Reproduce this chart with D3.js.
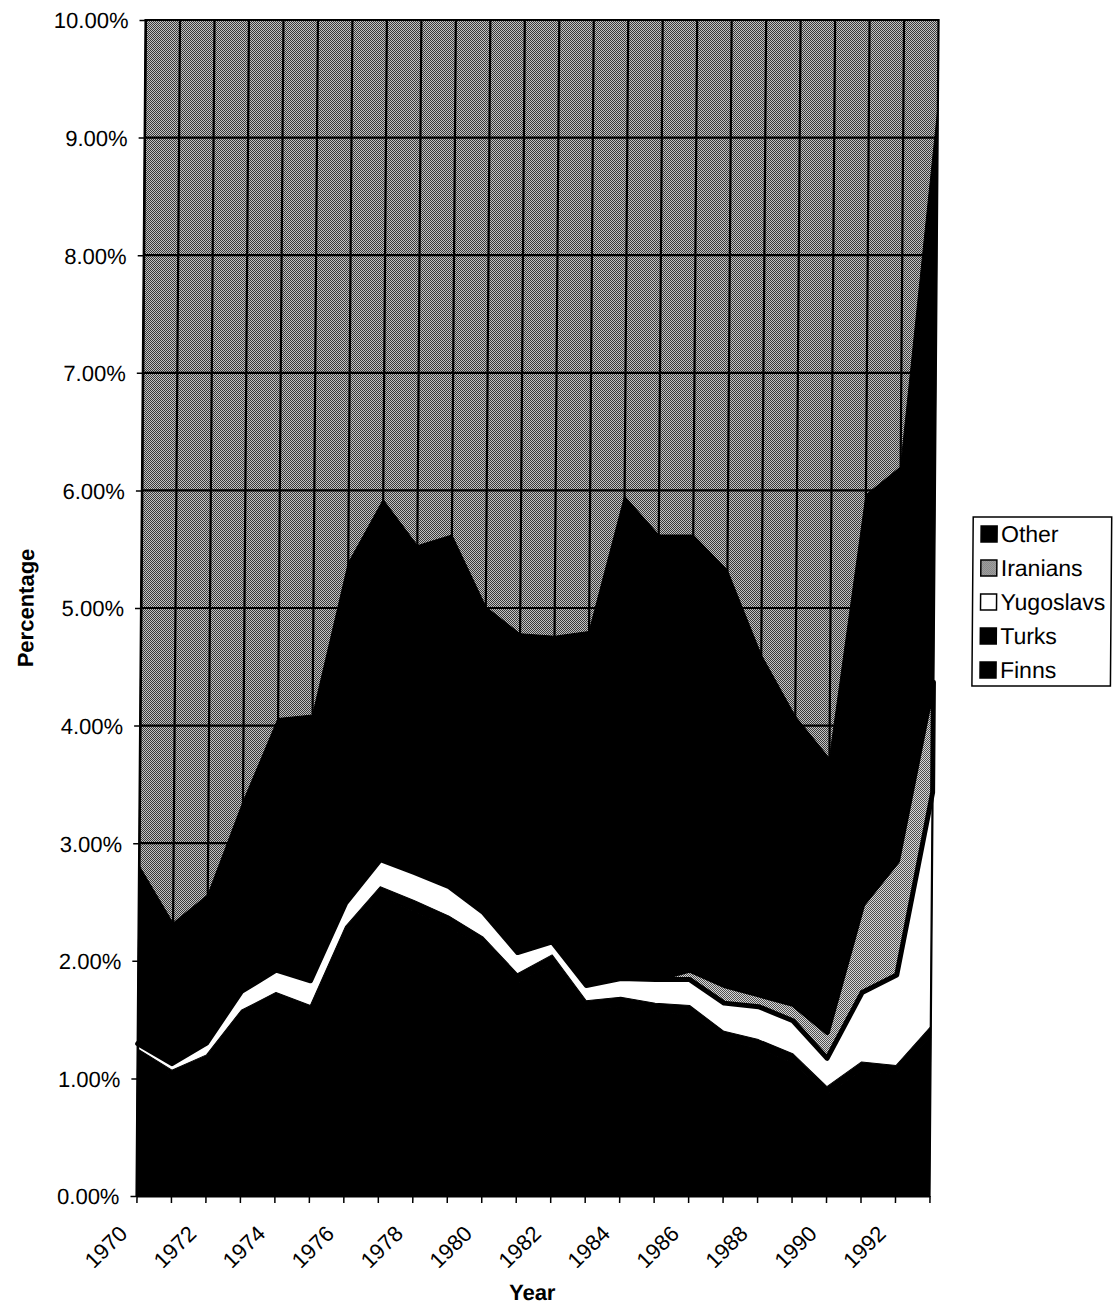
<!DOCTYPE html>
<html>
<head>
<meta charset="utf-8">
<script src="https://cdn.jsdelivr.net/npm/d3@7"></script>
<style>
  html, body { margin: 0; padding: 0; background: #fff; }
  svg { display: block; }
  text { font-family: "Liberation Sans", Arial, Helvetica, sans-serif; fill: #000; }
</style>
</head>
<body>
<svg id="chart" width="1113" height="1311"></svg>
<script>
// Share of the population by group, in percent, 1970-1993
const years = [1970, 1971, 1972, 1973, 1974, 1975, 1976, 1977, 1978, 1979, 1980, 1981,
               1982, 1983, 1984, 1985, 1986, 1987, 1988, 1989, 1990, 1991, 1992, 1993];
const finns     = [1.21, 1.02, 1.15, 1.52, 1.66, 1.55, 2.21, 2.54, 2.42, 2.29, 2.11, 1.81,
                   1.97, 1.58, 1.61, 1.56, 1.54, 1.32, 1.25, 1.13, 0.86, 1.06, 1.03, 1.35];
const turks     = [0.04, 0.05, 0.05, 0.06, 0.07, 0.07, 0.08, 0.09, 0.09, 0.09, 0.09, 0.08,
                   0.08, 0.08, 0.08, 0.08, 0.08, 0.08, 0.08, 0.08, 0.07, 0.08, 0.08, 0.09];
const yugoslavs = [0.045, 0.055, 0.10, 0.16, 0.19, 0.21, 0.20, 0.23, 0.24, 0.25, 0.21, 0.18,
                   0.11, 0.13, 0.16, 0.20, 0.22, 0.24, 0.28, 0.28, 0.24, 0.59, 0.77, 1.99];
const iranians  = [0, 0, 0, 0, 0, 0, 0, 0, 0, 0, 0, 0,
                   0, 0, 0, 0, 0.08, 0.15, 0.10, 0.14, 0.22, 0.75, 0.97, 0.94];
const other     = [1.515, 1.195, 1.26, 1.61, 2.14, 2.26, 2.89, 3.06, 2.78, 2.99, 2.60, 2.71,
                   2.60, 3.01, 4.10, 3.78, 3.70, 3.53, 2.89, 2.45, 2.33, 3.48, 3.35, 4.88];

const stackKeys   = ["Finns", "Turks", "Yugoslavs", "Iranians", "Other"];
const legendKeys  = ["Other", "Iranians", "Yugoslavs", "Turks", "Finns"];
const yTicks      = [0, 1, 2, 3, 4, 5, 6, 7, 8, 9, 10];
const xLabelYears = [1970, 1972, 1974, 1976, 1978, 1980, 1982, 1984, 1986, 1988, 1990, 1992];

const rows = years.map((yr, i) => ({
  year: yr, Finns: finns[i], Turks: turks[i], Yugoslavs: yugoslavs[i],
  Iranians: iranians[i], Other: other[i]
}));

const fills   = { Finns: "#000", Turks: "#000", Yugoslavs: "#fff", Iranians: "url(#iranDots)", Other: "#000" };
const strokes = { Finns: 1, Turks: 1, Yugoslavs: 1, Iranians: 5, Other: 1 };

const svg = d3.select("#chart");

// Chart sheet leans very slightly; keep the dot patterns on the pixel grid
const baseY = 1196;
const lean = `translate(0,${baseY}) skewX(-0.44) translate(0,${-baseY})`;
const unlean = `translate(0,${baseY}) skewX(0.44) translate(0,${-baseY})`;

const defs = svg.append("defs");
function dotPattern(id, dark, light) {
  const p = defs.append("pattern")
    .attr("id", id).attr("patternUnits", "userSpaceOnUse")
    .attr("width", 2).attr("height", 2)
    .attr("patternTransform", unlean);
  p.append("rect").attr("width", 2).attr("height", 2).attr("fill", light);
  p.append("rect").attr("x", 0).attr("y", 0).attr("width", 1).attr("height", 1).attr("fill", dark);
  p.append("rect").attr("x", 1).attr("y", 1).attr("width", 1).attr("height", 1).attr("fill", dark);
}
dotPattern("bgDots", "#3a3a3a", "#c4c4c4");
dotPattern("iranDots", "#505050", "#d8d8d8");

const g = svg.append("g").attr("transform", lean);

const x = d3.scaleLinear().domain([1970, 1993]).range([136.5, 929.5]);
const y = d3.scaleLinear().domain([0, 10]).range([baseY, 20]);
const [px0, px1] = x.range();
const [py1, py0] = y.range();

// plot background
g.append("rect")
  .attr("x", px0).attr("y", py0)
  .attr("width", px1 - px0).attr("height", py1 - py0)
  .attr("fill", "url(#bgDots)");

// grid
g.append("g").selectAll("line.h").data(yTicks.slice(1, -1)).join("line")
  .attr("x1", px0).attr("x2", px1)
  .attr("y1", d => y(d)).attr("y2", d => y(d))
  .attr("stroke", "#000").attr("stroke-width", 2.2);
g.append("g").selectAll("line.v").data(years.slice(1, -1)).join("line")
  .attr("x1", d => x(d)).attr("x2", d => x(d))
  .attr("y1", py0).attr("y2", py1)
  .attr("stroke", "#000").attr("stroke-width", 2.2);

// stacked areas
const stacked = d3.stack().keys(stackKeys)(rows);
const area = d3.area()
  .x(d => x(d.data.year))
  .y0(d => y(d[0]))
  .y1(d => y(d[1]));

g.append("g").selectAll("path").data(stacked).join("path")
  .attr("d", area)
  .attr("fill", s => fills[s.key])
  .attr("stroke", "#000")
  .attr("stroke-width", s => strokes[s.key])
  .attr("stroke-linejoin", "round");

// plot frame
g.append("rect")
  .attr("x", px0).attr("y", py0)
  .attr("width", px1 - px0).attr("height", py1 - py0)
  .attr("fill", "none").attr("stroke", "#000").attr("stroke-width", 2.2);

// y axis
const yAxis = g.append("g")
  .attr("transform", `translate(${px0},0)`)
  .call(d3.axisLeft(y).tickValues(yTicks).tickSize(6).tickSizeOuter(0).tickPadding(11)
        .tickFormat(d => d.toFixed(2) + "%"));
yAxis.select(".domain").attr("stroke", "#000").attr("stroke-width", 2);
yAxis.selectAll(".tick line").attr("stroke", "#000").attr("stroke-width", 1.5);
yAxis.selectAll("text")
  .attr("font-size", 22).attr("font-family", "'Liberation Sans', Arial, sans-serif")
  .attr("fill", "#000").attr("dy", "0.36em");

// x axis
const xAxis = g.append("g")
  .attr("transform", `translate(0,${baseY})`)
  .call(d3.axisBottom(x).tickValues(years).tickSize(7).tickSizeOuter(0).tickFormat(""));
xAxis.select(".domain").attr("stroke", "#000").attr("stroke-width", 2);
xAxis.selectAll(".tick line").attr("stroke", "#000").attr("stroke-width", 1.5);

g.append("g").selectAll("text").data(xLabelYears).join("text")
  .attr("transform", d => `translate(${x(d) - 7.5},1235) rotate(-45)`)
  .attr("text-anchor", "end")
  .attr("font-size", 22)
  .text(d => d);

// axis titles
g.append("text")
  .attr("x", (px0 + px1) / 2).attr("y", 1300)
  .attr("text-anchor", "middle")
  .attr("font-size", 22).attr("font-weight", "bold")
  .text("Year");

g.append("text")
  .attr("transform", `translate(29,${(py0 + py1) / 2}) rotate(-90)`)
  .attr("text-anchor", "middle")
  .attr("font-size", 22).attr("font-weight", "bold")
  .text("Percentage");

// legend
const legend = g.append("g");
legend.append("rect")
  .attr("x", 968).attr("y", 517)
  .attr("width", 138.5).attr("height", 169)
  .attr("fill", "#fff").attr("stroke", "#000").attr("stroke-width", 1.5);

const rowY = d3.scalePoint().domain(legendKeys).range([542, 678]);
const item = legend.selectAll("g.item").data(legendKeys).join("g")
  .attr("transform", k => `translate(0,${rowY(k)})`);
item.append("rect")
  .attr("x", 976).attr("y", -16)
  .attr("width", 16).attr("height", 16)
  .attr("fill", k => fills[k])
  .attr("stroke", "#000").attr("stroke-width", 1.5);
item.append("text")
  .attr("x", 996).attr("y", 0)
  .attr("font-size", 23)
  .text(k => k);
</script>
</body>
</html>
